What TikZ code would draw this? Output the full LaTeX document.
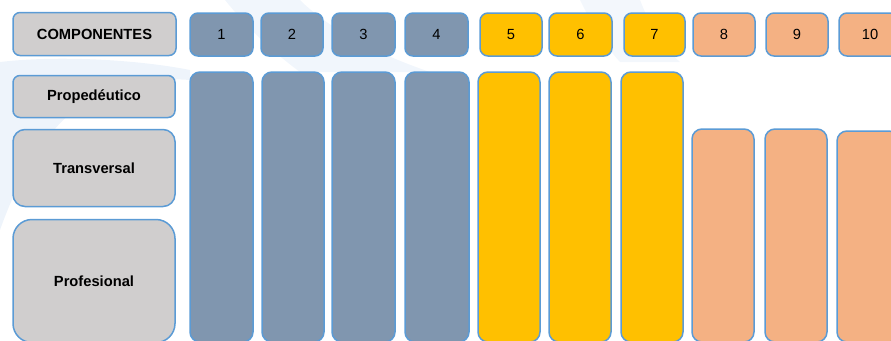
\documentclass[tikz,border=0pt]{standalone}
\usepackage{fontspec}
\setmainfont{Liberation Sans}
\definecolor{edgeblue}{RGB}{91,155,213}
\definecolor{slate}{RGB}{128,150,175}
\definecolor{gold}{RGB}{255,192,0}
\definecolor{peach}{RGB}{244,177,131}
\definecolor{lgrey}{RGB}{208,206,206}
\definecolor{wm}{RGB}{238,244,251}
\tikzset{
  cell/.style={draw=edgeblue, line width=1.5pt, inner sep=0pt, outer sep=0pt,
    font=\fontsize{14.7}{16}\selectfont, text=black},
  lab/.style={cell, fill=lgrey, font=\fontsize{14.7}{16}\selectfont\bfseries},
  num/.style={cell, minimum height=43pt, rounded corners=8pt},
  bar/.style={cell, rounded corners=10pt},
  cs/.style={fill=slate}, cg/.style={fill=gold}, cp/.style={fill=peach}
}
\begin{document}
\begin{tikzpicture}[x=1pt,y=-1pt]
\useasboundingbox (0,0) rectangle (891,340);
\clip (0,0) rectangle (891,340);
% faint watermark swoosh
\fill[wm] (0,62) .. controls (60,55) and (140,60) .. (190,70) -- (190,80) .. controls (120,75) and (50,90) .. (0,230) -- cycle;
\fill[wm, opacity=0.8] (225,0) -- (300,0) .. controls (330,30) and (380,55) .. (430,72) -- (300,72) .. controls (270,50) and (245,25) .. (225,0) -- cycle;
\fill[wm, opacity=0.7] (580,0) -- (640,0) .. controls (650,25) and (660,45) .. (680,62) -- (620,62) .. controls (600,40) and (590,20) .. (580,0) -- cycle;
% header row
\node[lab, minimum width=163pt, minimum height=43pt, rounded corners=7pt] (comp) at (94.5,34) {COMPONENTES};
\node[num, cs, minimum width=63pt] (n1) at (221.5,34.5) {1};
\node[num, cs, minimum width=62pt] (n2) at (292,34.5) {2};
\node[num, cs, minimum width=63pt] (n3) at (363.5,34.5) {3};
\node[num, cs, minimum width=63pt] (n4) at (436.5,34.5) {4};
\node[num, cg, minimum width=62pt] (n5) at (511,34.5) {5};
\node[num, cg, minimum width=63pt] (n6) at (580.5,34.5) {6};
\node[num, cg, minimum width=61pt] (n7) at (654.5,34.5) {7};
\node[num, cp, minimum width=62pt] (n8) at (724,34.5) {8};
\node[num, cp, minimum width=62pt] (n9) at (797,34.5) {9};
\node[num, cp, minimum width=62pt] (n10) at (870,34.5) {10};
% row labels
\node[lab, minimum width=162pt, minimum height=42pt, rounded corners=7pt] (prop) at (94,96.5) {Propedéutico};
\node[lab, minimum width=162pt, minimum height=77pt, rounded corners=12pt] (trans) at (94,168) {Transversal};
\node[lab, minimum width=162pt, minimum height=123pt, rounded corners=19pt] (prof) at (94,281) {Profesional};
% bars
\node[bar, cs, minimum width=63pt, minimum height=270pt] (b1) at (221.5,207) {};
\node[bar, cs, minimum width=62pt, minimum height=270pt] (b2) at (293,207) {};
\node[bar, cs, minimum width=63pt, minimum height=270pt] (b3) at (363.5,207) {};
\node[bar, cs, minimum width=64pt, minimum height=270pt] (b4) at (437,207) {};
\node[bar, cg, minimum width=62pt, minimum height=270pt] (b5) at (509,207) {};
\node[bar, cg, minimum width=62pt, minimum height=270pt] (b6) at (580,207) {};
\node[bar, cg, minimum width=62pt, minimum height=270pt] (b7) at (652,207) {};
\node[bar, cp, minimum width=62pt, minimum height=213pt] (b8) at (723,235.5) {};
\node[bar, cp, minimum width=62pt, minimum height=213pt] (b9) at (796,235.5) {};
\node[bar, cp, minimum width=62pt, minimum height=211pt] (b10) at (868,236.5) {};
\end{tikzpicture}
\end{document}
